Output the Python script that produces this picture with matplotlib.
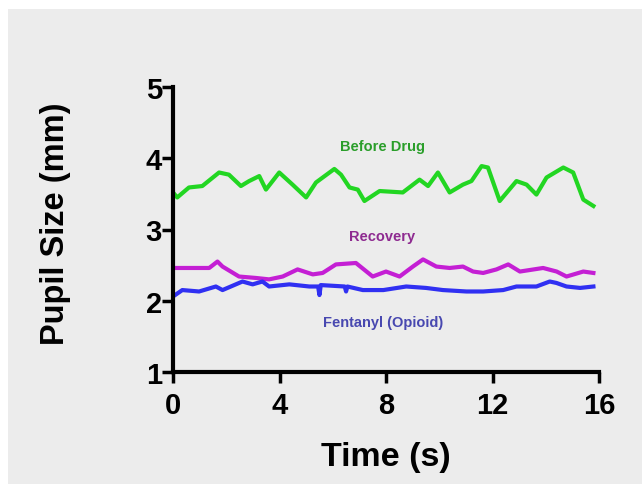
import matplotlib
matplotlib.use("Agg")
import matplotlib.pyplot as plt
from matplotlib.patches import Rectangle

plt.rcParams['font.family'] = ['Liberation Sans', 'DejaVu Sans']

# Data (time in s, pupil size in mm)
before_t = [0.0, 0.16, 0.6, 1.1, 1.73, 2.1, 2.55, 2.86, 3.24, 3.49, 3.99, 4.49, 5.0, 5.37,
            6.06, 6.31, 6.63, 6.94, 7.19, 7.76, 8.63, 9.26, 9.58, 9.95, 10.39, 10.89, 11.21,
            11.59, 11.83, 12.27, 12.9, 13.28, 13.65, 14.03, 14.66, 15.03, 15.41, 15.79]
before_v = [3.52, 3.45, 3.59, 3.61, 3.80, 3.77, 3.61, 3.68, 3.75, 3.56, 3.80, 3.63, 3.45, 3.66,
            3.85, 3.77, 3.59, 3.56, 3.40, 3.54, 3.52, 3.70, 3.61, 3.80, 3.52, 3.63, 3.68,
            3.89, 3.87, 3.40, 3.68, 3.63, 3.49, 3.73, 3.87, 3.80, 3.42, 3.33]

recovery_t = [0.0, 1.36, 1.67, 1.86, 2.48, 3.11, 3.61, 4.12, 4.68, 5.25, 5.62, 6.12, 6.87,
              7.5, 8.0, 8.51, 9.01, 9.39, 9.89, 10.39, 10.89, 11.27, 11.65, 12.15, 12.59,
              13.03, 13.9, 14.41, 14.78, 15.41, 15.79]
recovery_v = [2.46, 2.46, 2.55, 2.48, 2.34, 2.32, 2.30, 2.34, 2.44, 2.37, 2.39, 2.51, 2.53,
              2.34, 2.41, 2.34, 2.48, 2.58, 2.48, 2.46, 2.48, 2.41, 2.39, 2.44, 2.51,
              2.41, 2.46, 2.41, 2.34, 2.41, 2.39]

fentanyl_t = [0.0, 0.35, 0.98, 1.61, 1.86, 2.61, 2.99, 3.36, 3.61, 4.37, 5.12, 5.45, 5.5, 5.55,
              6.45, 6.5, 6.55, 7.13, 7.9, 8.76, 9.5, 10.14, 11.02, 11.65, 12.4, 12.9, 13.65,
              14.15, 14.4, 14.78, 15.29, 15.79]
fentanyl_v = [2.06, 2.15, 2.13, 2.20, 2.15, 2.27, 2.23, 2.27, 2.20, 2.23, 2.20, 2.20, 2.08, 2.22,
              2.20, 2.13, 2.20, 2.15, 2.15, 2.20, 2.18, 2.15, 2.13, 2.13, 2.15, 2.20, 2.20,
              2.27, 2.25, 2.20, 2.18, 2.20]

x_ticks = [0, 4, 8, 12, 16]
y_ticks = [1, 2, 3, 4, 5]

W, H = 642, 485
fig = plt.figure(figsize=(W / 100, H / 100), dpi=100, facecolor='white')
fig.patches.append(Rectangle((8 / W, 0), 1 - 8 / W, 1 - 10 / H, transform=fig.transFigure,
                             facecolor='#ececec', edgecolor='none', zorder=-10))

ax = fig.add_axes([173 / W, 1 - 373 / H, (599 - 173) / W, (373 - 88) / H])
ax.set_facecolor('none')

ax.plot(before_t, before_v, color='#22d622', lw=3, solid_joinstyle='round')
ax.plot(recovery_t, recovery_v, color='#c41fd4', lw=3, solid_joinstyle='round')
ax.plot(fentanyl_t, fentanyl_v, color='#3030f2', lw=3, solid_joinstyle='round')

ax.text(7.85, 4.17, 'Before Drug', color='#2a9e2a', fontsize=10.5, fontweight='bold', ha='center', va='center')
ax.text(7.85, 2.91, 'Recovery', color='#8e2a90', fontsize=10.5, fontweight='bold', ha='center', va='center')
ax.text(7.9, 1.70, 'Fentanyl (Opioid)', color='#4848b0', fontsize=10.5, fontweight='bold', ha='center', va='center')

ax.set_xlim(0, 16)
ax.set_ylim(1, 5)
ax.set_xticks(x_ticks)
ax.set_yticks(y_ticks)
ax.set_xticklabels([str(v) for v in x_ticks])
ax.set_yticklabels([str(v) for v in y_ticks])

for s in ['top', 'right']:
    ax.spines[s].set_visible(False)
for s in ['left', 'bottom']:
    ax.spines[s].set_linewidth(3)
    ax.spines[s].set_color('black')
    ax.spines[s].set_capstyle('projecting')

ax.tick_params(axis='both', length=8, width=2.5, labelsize=21, direction='out')
ax.tick_params(axis='y', pad=0)
ax.tick_params(axis='x', pad=6)
for lab in ax.get_xticklabels() + ax.get_yticklabels():
    lab.set_fontweight('bold')

ax.set_xlabel('Time (s)', fontsize=24.5, fontweight='bold')
ax.set_ylabel('Pupil Size (mm)', fontsize=23.5, fontweight='bold')
ax.xaxis.set_label_coords(0.5, -0.243)
ax.yaxis.set_label_coords(-0.24, 0.525)

fig.savefig('out.png', dpi=100, facecolor=fig.get_facecolor())
